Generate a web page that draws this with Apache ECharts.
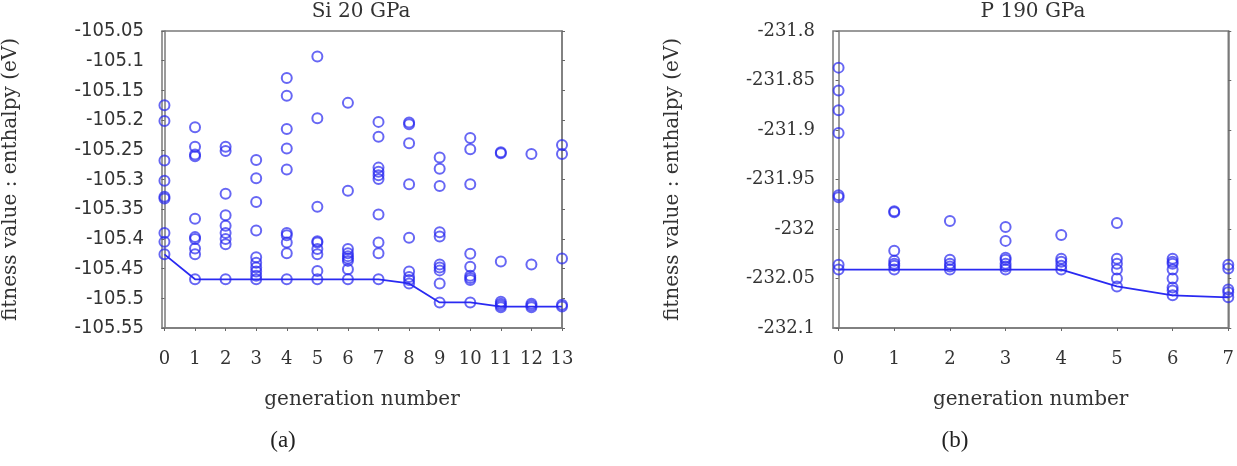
<!DOCTYPE html>
<html>
<head>
<meta charset="utf-8">
<script src="https://cdn.jsdelivr.net/npm/echarts@6/dist/echarts.min.js"></script>
<style>
html,body{margin:0;padding:0;background:#fff;}
#main{width:1237px;height:466px;}
</style>
</head>
<body>
<div id="main"></div>
<script>
// (a) Si 20 GPa : enthalpy of every structure, one list per generation
var siValues = [
    [-105.175, -105.2015, -105.268, -105.302, -105.329, -105.332, -105.39, -105.405, -105.426],
    [-105.212, -105.245, -105.258, -105.261, -105.366, -105.397, -105.40, -105.416, -105.426, -105.468],
    [-105.245, -105.252, -105.324, -105.36, -105.378, -105.39, -105.40, -105.409, -105.468],
    [-105.267, -105.298, -105.338, -105.386, -105.431, -105.44, -105.448, -105.455, -105.462, -105.468],
    [-105.129, -105.159, -105.215, -105.248, -105.283, -105.39, -105.394, -105.406, -105.424, -105.468],
    [-105.093, -105.197, -105.346, -105.404, -105.406, -105.417, -105.426, -105.454, -105.468],
    [-105.171, -105.319, -105.417, -105.424, -105.429, -105.433, -105.437, -105.451, -105.468],
    [-105.203, -105.228, -105.280, -105.287, -105.293, -105.299, -105.359, -105.406, -105.424, -105.468],
    [-105.204, -105.207, -105.239, -105.308, -105.398, -105.455, -105.464, -105.469, -105.475],
    [-105.263, -105.282, -105.311, -105.389, -105.396, -105.443, -105.448, -105.453, -105.475, -105.507],
    [-105.230, -105.249, -105.308, -105.425, -105.447, -105.462, -105.466, -105.469, -105.507],
    [-105.254, -105.256, -105.438, -105.506, -105.509, -105.512, -105.515],
    [-105.257, -105.443, -105.509, -105.512, -105.515],
    [-105.242, -105.257, -105.433, -105.511, -105.514]
];
// best enthalpy so far
var siBest = [-105.426, -105.468, -105.468, -105.468, -105.468, -105.468, -105.468, -105.468,
    -105.475, -105.507, -105.507, -105.514, -105.514, -105.514];
var siGenTicks = [0, 1, 2, 3, 4, 5, 6, 7, 8, 9, 10, 11, 12, 13];
var siYTicks = [-105.55, -105.5, -105.45, -105.4, -105.35, -105.3, -105.25, -105.2, -105.15, -105.1, -105.05];

// (b) P 190 GPa
var pValues = [
    [-231.837, -231.860, -231.880, -231.903, -231.966, -231.968, -232.036, -232.041],
    [-231.982, -231.983, -232.022, -232.032, -232.035, -232.037, -232.041],
    [-231.992, -232.031, -232.035, -232.038, -232.041],
    [-231.998, -232.012, -232.029, -232.031, -232.035, -232.038, -232.041],
    [-232.006, -232.030, -232.033, -232.037, -232.041],
    [-231.994, -232.030, -232.035, -232.041, -232.050, -232.058],
    [-232.030, -232.033, -232.035, -232.041, -232.050, -232.059, -232.062, -232.067],
    [-232.036, -232.040, -232.061, -232.064, -232.069]
];
var pBest = [-232.041, -232.041, -232.041, -232.041, -232.041, -232.058, -232.067, -232.069];
var pGenTicks = [0, 1, 2, 3, 4, 5, 6, 7];
var pYTicks = [-232.1, -232.05, -232, -231.95, -231.9, -231.85, -231.8];

var serif = '"DejaVu Serif", serif';
var boxColor = '#7a7a7a';
var dotColor = 'rgba(38,38,240,0.88)';
var lineColor = '#2a2af2';

function toPairs(groups) {
    var out = [];
    for (var i = 0; i < groups.length; i++) {
        for (var j = 0; j < groups[i].length; j++) {
            out.push([i, groups[i][j]]);
        }
    }
    return out;
}
function indexed(arr) {
    return arr.map(function (v, i) { return [i, v]; });
}

function xAxisOf(gridIndex, min, max, ticks) {
    return {
        type: 'value', gridIndex: gridIndex, min: min, max: max,
        axisLine: {show: true, lineStyle: {color: boxColor, width: 1.5}},
        axisTick: {show: true, customValues: ticks, length: 3, lineStyle: {color: '#666'}},
        axisLabel: {customValues: ticks, margin: 22, fontFamily: serif, fontSize: 18, color: '#333'},
        splitLine: {show: false},
        name: 'generation number', nameLocation: 'middle', nameGap: 62,
        nameTextStyle: {fontFamily: serif, fontSize: 20, color: '#333'}
    };
}
function yAxisOf(gridIndex, min, max, ticks, labelFont, labelSize, gap) {
    return {
        type: 'value', gridIndex: gridIndex, min: min, max: max, position: 'left',
        axisLine: {show: true, lineStyle: {color: boxColor, width: 1.5}},
        axisTick: {show: true, customValues: ticks, length: 3, lineStyle: {color: '#666'}},
        axisLabel: {customValues: ticks, margin: 18, fontFamily: labelFont, fontSize: labelSize, color: '#333',
            formatter: function (v) { return String(+v.toFixed(3)); }},
        splitLine: {show: false},
        name: 'fitness value : enthalpy (eV)', nameLocation: 'middle', nameGap: gap,
        nameTextStyle: {fontFamily: serif, fontSize: 20, color: '#333'}
    };
}
function mirrorAxis(gridIndex, min, max, ticks) {
    return {
        type: 'value', gridIndex: gridIndex, min: min, max: max, position: 'right',
        axisLine: {show: true, lineStyle: {color: boxColor, width: 1.5}},
        axisTick: {show: true, customValues: ticks, length: 3, lineStyle: {color: '#666'}},
        axisLabel: {show: false},
        splitLine: {show: false}
    };
}

var myChart = echarts.init(document.getElementById('main'));
var option = {
    animation: false,
    backgroundColor: '#fff',
    grid: [
        {left: 161, top: 31, width: 401, height: 297, show: true, borderColor: boxColor, borderWidth: 1.5},
        {left: 833, top: 31, width: 401, height: 297, show: true, borderColor: boxColor, borderWidth: 1.5}
    ],
    xAxis: [
        xAxisOf(0, -0.08, 13, siGenTicks),
        xAxisOf(1, -0.1, 7, pGenTicks)
    ],
    yAxis: [
        yAxisOf(0, -105.55, -105.05, siYTicks, '"DejaVu Sans Condensed", "DejaVu Sans", sans-serif', 20, 141),
        mirrorAxis(0, -105.55, -105.05, siYTicks),
        yAxisOf(1, -232.1, -231.8, pYTicks, serif, 18, 150),
        mirrorAxis(1, -232.1, -231.8, pYTicks)
    ],
    graphic: [
        {type: 'text', x: 361, y: 12, style: {text: 'Si 20 GPa', font: '20px ' + serif, fill: '#333', align: 'center', verticalAlign: 'middle'}},
        {type: 'text', x: 1033, y: 12, style: {text: 'P 190 GPa', font: '20px ' + serif, fill: '#333', align: 'center', verticalAlign: 'middle'}},
        {type: 'text', x: 283, y: 441, style: {text: '(a)', font: '23px "Liberation Serif", serif', fill: '#222', align: 'center', verticalAlign: 'middle'}},
        {type: 'text', x: 955, y: 441, style: {text: '(b)', font: '23px "Liberation Serif", serif', fill: '#222', align: 'center', verticalAlign: 'middle'}}
    ],
    series: [
        {
            type: 'line', xAxisIndex: 0, yAxisIndex: 0, data: indexed(siBest),
            showSymbol: false, lineStyle: {color: lineColor, width: 1.8}, z: 2
        },
        {
            type: 'scatter', xAxisIndex: 0, yAxisIndex: 0, data: toPairs(siValues),
            symbol: 'circle', symbolSize: 10,
            itemStyle: {color: 'rgba(255,255,255,0)', borderColor: dotColor, borderWidth: 2}, z: 3
        },
        {
            type: 'line', xAxisIndex: 1, yAxisIndex: 2, data: indexed(pBest),
            showSymbol: false, lineStyle: {color: lineColor, width: 1.8}, z: 2
        },
        {
            type: 'scatter', xAxisIndex: 1, yAxisIndex: 2, data: toPairs(pValues),
            symbol: 'circle', symbolSize: 10,
            itemStyle: {color: 'rgba(255,255,255,0)', borderColor: dotColor, borderWidth: 2}, z: 3
        }
    ]
};
myChart.setOption(option);
</script>
</body>
</html>
